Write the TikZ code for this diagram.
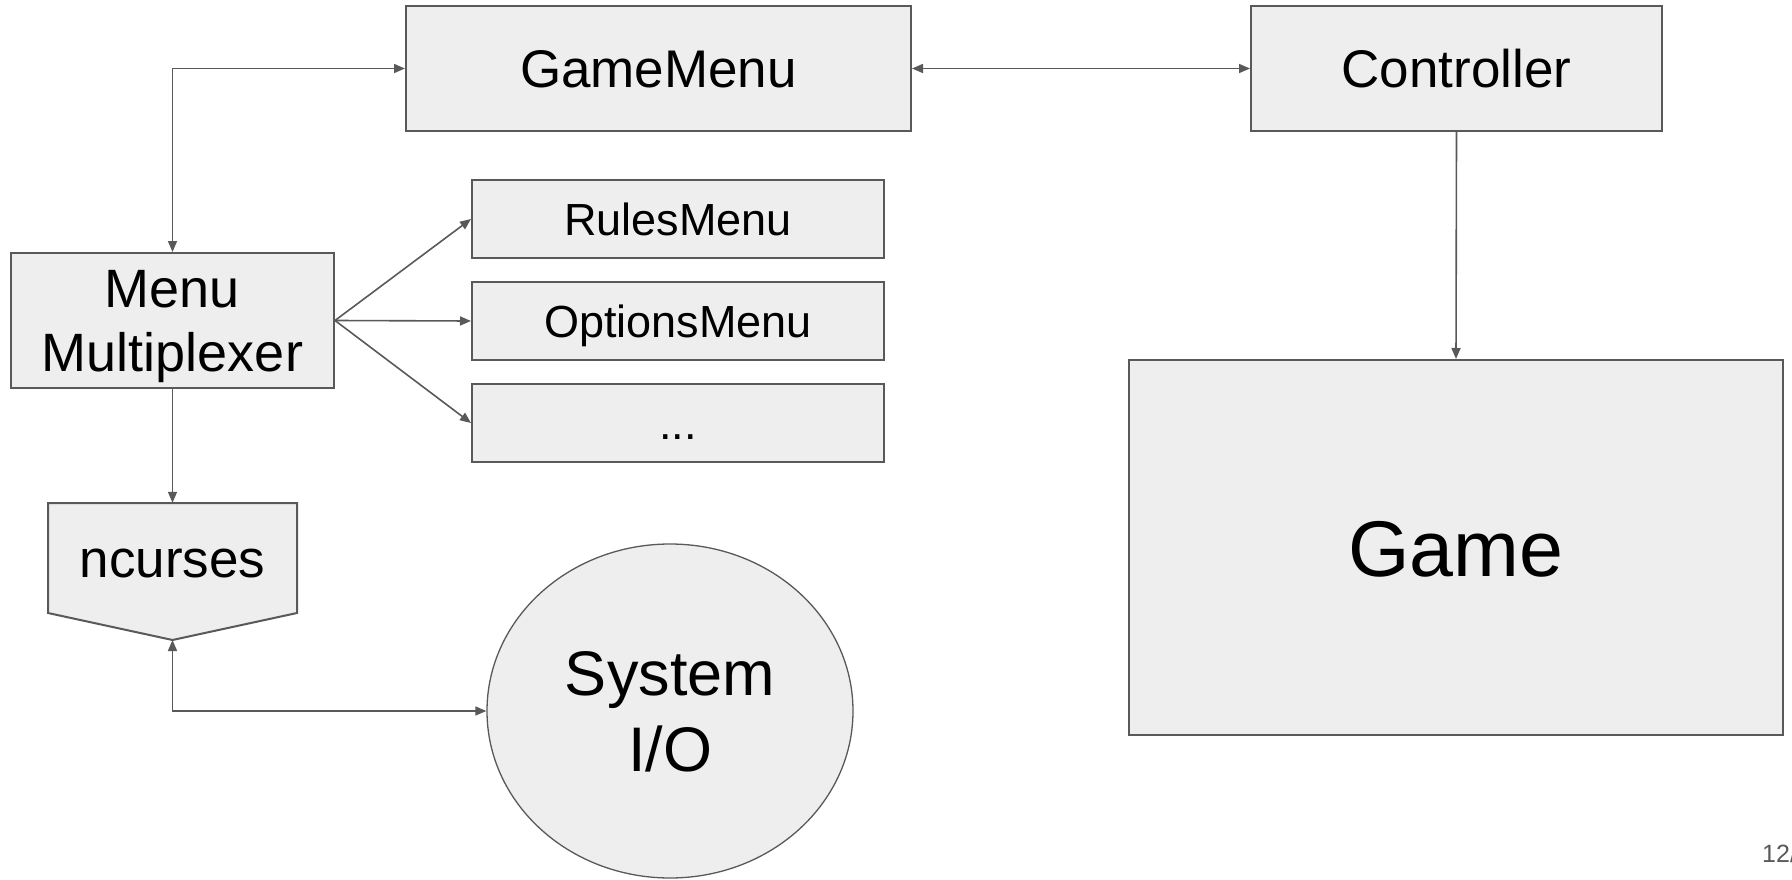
\documentclass[tikz,border=0pt]{standalone}
\usepackage{xcolor}
\usepackage{fontspec}
\setmainfont{Liberation Sans}
\usepackage{tikz}
\usetikzlibrary{shapes,arrows,arrows.meta,positioning}

\definecolor{boxfill}{HTML}{EEEEEE}
\definecolor{boxline}{HTML}{595959}

\tikzset{
    block/.style={
        rectangle,
        draw=boxline,
        fill=boxfill,
        line width=2pt,
        inner sep=0pt,
        font=\fontsize{53}{61}\selectfont
    },
    oneline/.style={
        text height=#1,
        text depth=0pt
    },
    link/.style={
        draw=boxline,
        line width=1.6pt,
        -{Triangle[length=11pt,width=9pt]}
    },
    twolink/.style={
        link,
        {Triangle[length=11pt,width=9pt]}-{Triangle[length=11pt,width=9pt]}
    }
}

\begin{document}
\begin{tikzpicture}[x=1pt,y=-1pt]
                \useasboundingbox (0,0) rectangle (1792,880);

                % top row
                \node[
                    block, oneline=38pt,
                    minimum width=505pt,
                    minimum height=125pt
                    ] (gamemenu) at (658.5,68.5) {GameMenu};

                \node[
                    block, oneline=38pt,
                    minimum width=411pt,
                    minimum height=125pt
                    ] (controller) at (1456.5,68.5) {Controller};

                % the sub menus
                \node[
                    block, oneline=32pt,
                    minimum width=412pt,
                    minimum height=78pt,
                    font=\fontsize{45}{52}\selectfont
                    ] (rulesmenu) at (678,219) {RulesMenu};

                \node[
                    block, oneline=32pt,
                    minimum width=412pt,
                    minimum height=78pt,
                    font=\fontsize{45}{52}\selectfont
                    ] (optionsmenu) at (678,321) {OptionsMenu};

                \node[
                    block, oneline=32pt,
                    minimum width=412pt,
                    minimum height=78pt,
                    font=\fontsize{45}{52}\selectfont
                    ] (moremenus) at (678,423) {...};

                \node[
                    block,
                    align=center,
                    text depth=0pt,
                    minimum width=323pt,
                    minimum height=135pt,
                    font=\fontsize{54}{64}\selectfont
                    ] (multiplexer) at (172.5,320.5) {Menu\\Multiplexer};

                % ncurses box with the pointed bottom
                \coordinate (nctip) at (172.5,640);
                \draw[
                    draw=boxline,
                    fill=boxfill,
                    line width=2pt,
                    line join=miter
                    ] (48,503) -- (297,503) -- (297,613) -- (nctip) -- (48,613) -- cycle;
                \node[
                    oneline=38pt,
                    inner sep=0pt,
                    minimum width=249pt,
                    minimum height=110pt,
                    font=\fontsize{53}{61}\selectfont
                    ] (ncurses) at (172.5,558) {ncurses};

                \node[
                    ellipse,
                    draw=boxline,
                    fill=boxfill,
                    line width=1.3pt,
                    inner sep=0pt,
                    align=center,
                    text depth=0pt,
                    minimum width=366pt,
                    minimum height=334pt,
                    font=\fontsize{63}{76}\selectfont
                    ] (sysio) at (670,711) {System\\I/O};

                \node[
                    block, oneline=57pt,
                    minimum width=654pt,
                    minimum height=375pt,
                    font=\fontsize{79}{90}\selectfont
                    ] (game) at (1456,547.5) {Game};

                % connectors
                \draw[twolink] (multiplexer.north) |- (gamemenu.west);
                \draw[twolink] (gamemenu.east) -- (controller.west);
                \draw[link] (controller.south) -- (game.north);
                \draw[link] (multiplexer.east) -- (rulesmenu.west);
                \draw[link] (multiplexer.east) -- (optionsmenu.west);
                \draw[link] (multiplexer.east) -- (moremenus.west);
                \draw[link] (multiplexer.south) -- (ncurses.north);
                \draw[twolink] (nctip) |- (sysio.west);

                % slide number
                \node[
                    anchor=base west,
                    inner sep=0pt,
                    text=boxline,
                    font=\fontsize{25}{30}\selectfont
                    ] (slidenum) at (1762,862) {12/};

            \end{tikzpicture}
\end{document}
